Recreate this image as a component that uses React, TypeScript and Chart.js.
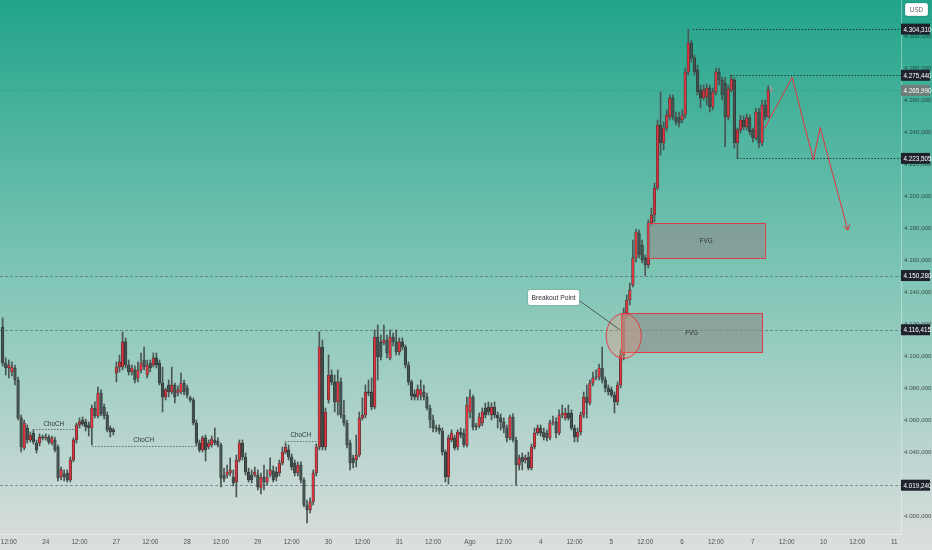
import { useEffect, useRef } from "react";
import { Chart, registerables } from "chart.js";
Chart.register(...registerables);

// ---------- DATA (1h candles, index = bar number, day = 23 bars) ----------
const FIRST_INDEX = 9;
const OPEN = [
  4118.1, 4095.6, 4092.5, 4090.0, 4092.5, 4085.0, 4061.3, 4042.5, 4055.0, 4047.5,
  4051.9, 4045.6, 4045.6, 4049.4, 4048.8, 4049.4, 4045.6, 4047.5, 4043.1, 4024.4,
  4026.3, 4026.9, 4022.5, 4035.0, 4047.5, 4056.9, 4060.0, 4058.8, 4056.9, 4055.0,
  4067.5, 4062.5, 4076.9, 4068.1, 4063.1, 4055.0, 4053.8, 4089.4, 4093.1, 4093.1,
  4108.8, 4094.4, 4090.0, 4091.3, 4086.3, 4091.3, 4097.5, 4088.1, 4095.6, 4094.4,
  4098.8, 4095.6, 4083.1, 4074.4, 4081.9, 4077.5, 4081.9, 4076.9, 4077.5, 4083.1,
  4080.0, 4073.8, 4072.5, 4058.1, 4045.6, 4041.3, 4048.8, 4043.1, 4044.4, 4047.5,
  4046.9, 4044.4, 4025.6, 4025.6, 4026.9, 4024.4, 4021.3, 4035.0, 4045.6, 4036.9,
  4027.5, 4025.6, 4025.6, 4025.6, 4017.5, 4024.4, 4021.3, 4025.6, 4028.1, 4027.5,
  4026.9, 4033.1, 4040.0, 4041.3, 4036.9, 4033.1, 4026.9, 4031.9, 4022.5, 4006.9,
  4003.8, 4008.8, 4026.9, 4043.1, 4105.6, 4043.1, 4072.5, 4088.1, 4083.8, 4071.3,
  4083.8, 4063.1, 4058.1, 4045.6, 4036.3, 4035.0, 4038.1, 4061.3, 4063.1, 4077.5,
  4077.5, 4068.1, 4111.9, 4108.8, 4108.1, 4110.0, 4098.8, 4111.9, 4108.8, 4102.5,
  4108.8, 4105.6, 4094.4, 4083.8, 4076.3, 4074.4, 4075.6, 4077.5, 4074.4, 4067.5,
  4060.0, 4055.0, 4055.0, 4053.1, 4040.0, 4024.4, 4047.5, 4048.8, 4043.1, 4052.5,
  4051.9, 4044.4, 4065.0, 4074.4, 4056.3, 4056.3, 4058.1, 4067.5, 4068.1, 4063.1,
  4068.1, 4063.1, 4061.3, 4058.8, 4055.0, 4048.8, 4061.9, 4047.5, 4031.9, 4036.9,
  4035.0, 4036.9, 4030.0, 4043.1, 4051.9, 4055.0, 4052.5, 4051.9, 4048.8, 4058.1,
  4058.8, 4051.9, 4063.1, 4061.3, 4064.4, 4064.4, 4055.0, 4049.4, 4052.5, 4063.1,
  4074.4, 4070.6, 4083.1, 4086.3, 4086.9, 4092.5, 4085.0, 4080.0, 4078.8, 4075.6,
  4071.3, 4081.9, 4100.6, 4126.9, 4135.0, 4144.4, 4161.3, 4176.9, 4169.4, 4161.3,
  4156.9, 4183.1, 4188.1, 4205.0, 4244.4, 4233.1, 4242.5, 4249.4, 4261.3, 4249.4,
  4248.8, 4247.5, 4250.6, 4277.5, 4295.6, 4286.3, 4278.8, 4266.3, 4261.3, 4261.9,
  4267.5, 4255.6, 4265.0, 4277.5, 4272.5, 4270.6, 4249.4, 4266.3, 4272.5, 4233.1,
  4241.3, 4247.5, 4243.1, 4248.8, 4241.3, 4236.3, 4252.5, 4233.1, 4256.9, 4249.4,
  4266.3,
];
const HIGH = [
  4123.8, 4098.8, 4097.5, 4096.3, 4094.4, 4086.9, 4063.1, 4060.0, 4056.9, 4052.5,
  4053.8, 4047.5, 4051.3, 4050.6, 4051.3, 4050.6, 4050.0, 4049.4, 4044.4, 4030.6,
  4028.8, 4028.8, 4036.9, 4048.8, 4058.1, 4061.3, 4061.9, 4060.6, 4058.8, 4069.4,
  4071.3, 4080.6, 4078.8, 4070.0, 4065.0, 4056.3, 4055.0, 4096.3, 4100.6, 4115.0,
  4111.3, 4097.5, 4094.4, 4093.8, 4096.3, 4101.9, 4105.6, 4097.5, 4097.5, 4101.9,
  4101.9, 4097.5, 4093.1, 4080.0, 4085.0, 4093.1, 4083.1, 4081.3, 4089.4, 4085.0,
  4081.9, 4075.0, 4073.8, 4060.0, 4047.5, 4050.0, 4050.6, 4047.5, 4050.0, 4055.0,
  4048.8, 4045.6, 4030.0, 4031.9, 4036.3, 4028.8, 4038.1, 4047.5, 4047.5, 4039.4,
  4030.0, 4028.8, 4030.6, 4028.8, 4026.9, 4031.9, 4028.8, 4036.3, 4031.3, 4030.6,
  4035.0, 4043.1, 4045.6, 4044.4, 4038.8, 4035.0, 4033.8, 4033.8, 4023.8, 4010.0,
  4011.3, 4028.8, 4045.0, 4115.0, 4110.0, 4067.5, 4100.6, 4091.3, 4088.1, 4091.3,
  4086.3, 4072.5, 4060.0, 4047.5, 4038.1, 4050.6, 4065.0, 4073.8, 4081.9, 4085.0,
  4086.3, 4116.3, 4119.4, 4113.1, 4119.4, 4113.1, 4116.3, 4114.4, 4116.3, 4111.3,
  4111.3, 4106.9, 4096.3, 4085.0, 4078.8, 4081.9, 4085.0, 4081.9, 4076.9, 4069.4,
  4063.1, 4056.9, 4056.9, 4055.0, 4041.3, 4050.6, 4053.8, 4050.6, 4053.8, 4055.0,
  4054.4, 4074.4, 4078.8, 4075.6, 4058.1, 4064.4, 4067.5, 4070.6, 4071.3, 4070.6,
  4071.3, 4065.0, 4063.8, 4061.3, 4056.9, 4063.1, 4063.8, 4049.4, 4038.1, 4039.4,
  4038.1, 4040.0, 4045.0, 4055.0, 4056.9, 4056.9, 4055.0, 4053.8, 4060.0, 4062.5,
  4061.3, 4066.3, 4069.4, 4067.5, 4069.4, 4066.3, 4056.9, 4055.0, 4065.0, 4077.5,
  4081.9, 4085.0, 4090.0, 4091.3, 4095.0, 4105.6, 4086.9, 4081.9, 4080.6, 4077.5,
  4083.8, 4103.8, 4130.0, 4138.1, 4145.6, 4172.5, 4179.4, 4178.8, 4172.5, 4163.1,
  4185.0, 4192.5, 4208.1, 4247.5, 4265.0, 4246.3, 4253.8, 4263.1, 4263.1, 4252.5,
  4252.5, 4253.8, 4280.0, 4304.31, 4297.5, 4288.1, 4281.9, 4269.4, 4269.4, 4270.0,
  4269.4, 4267.5, 4280.0, 4280.0, 4274.4, 4274.4, 4269.4, 4275.44, 4273.8, 4242.5,
  4250.6, 4250.0, 4251.3, 4250.6, 4242.5, 4255.0, 4255.0, 4260.0, 4260.0, 4268.8,
  4268.8,
];
const LOW = [
  4093.8, 4088.1, 4086.3, 4087.5, 4081.9, 4060.0, 4040.0, 4041.3, 4045.6, 4046.3,
  4045.0, 4039.4, 4043.8, 4047.5, 4047.5, 4045.0, 4044.4, 4040.0, 4021.9, 4022.5,
  4021.9, 4021.3, 4021.3, 4033.8, 4045.6, 4055.0, 4056.3, 4053.1, 4050.0, 4044.4,
  4061.3, 4061.3, 4062.5, 4060.6, 4052.5, 4049.4, 4050.6, 4083.8, 4090.0, 4091.3,
  4092.5, 4088.1, 4088.1, 4083.1, 4083.8, 4089.4, 4091.3, 4086.3, 4090.0, 4093.1,
  4092.5, 4081.9, 4065.0, 4072.5, 4074.4, 4076.3, 4070.6, 4075.0, 4076.3, 4075.6,
  4073.8, 4071.3, 4056.9, 4043.8, 4040.0, 4040.0, 4034.4, 4041.9, 4043.1, 4044.4,
  4043.1, 4018.1, 4021.3, 4023.8, 4025.0, 4018.8, 4011.9, 4033.8, 4035.0, 4025.6,
  4021.3, 4020.6, 4024.4, 4016.3, 4013.8, 4016.3, 4019.4, 4024.4, 4021.3, 4021.9,
  4025.0, 4031.9, 4038.8, 4035.0, 4028.8, 4025.0, 4025.0, 4020.6, 4005.6, 3995.6,
  4001.9, 4006.9, 4025.0, 4041.3, 4041.3, 4041.3, 4070.6, 4081.9, 4065.0, 4063.1,
  4061.3, 4056.3, 4042.5, 4028.8, 4030.0, 4030.6, 4036.9, 4060.0, 4061.3, 4075.0,
  4066.3, 4066.9, 4085.0, 4097.5, 4106.9, 4098.8, 4097.5, 4106.3, 4100.6, 4100.6,
  4103.8, 4092.5, 4081.9, 4072.5, 4072.5, 4072.5, 4072.5, 4072.5, 4066.3, 4055.0,
  4052.5, 4052.5, 4051.3, 4038.1, 4021.3, 4020.0, 4046.3, 4041.3, 4041.3, 4048.8,
  4043.1, 4043.1, 4061.3, 4053.8, 4053.8, 4055.0, 4056.3, 4061.3, 4063.1, 4060.0,
  4061.3, 4055.0, 4053.8, 4051.9, 4046.3, 4047.5, 4046.3, 4019.24, 4028.8, 4028.8,
  4033.1, 4028.8, 4028.8, 4041.9, 4050.6, 4050.0, 4047.5, 4046.9, 4047.5, 4056.9,
  4048.8, 4050.6, 4061.3, 4060.0, 4060.0, 4053.8, 4046.3, 4046.3, 4050.6, 4061.3,
  4061.3, 4069.4, 4081.3, 4085.0, 4085.0, 4083.1, 4077.5, 4075.6, 4074.4, 4064.4,
  4069.4, 4080.0, 4097.5, 4123.8, 4131.9, 4143.1, 4158.8, 4161.3, 4158.1, 4150.28,
  4155.0, 4181.3, 4183.8, 4203.8, 4225.6, 4228.8, 4240.6, 4247.5, 4247.5, 4244.4,
  4243.1, 4245.6, 4248.8, 4275.6, 4283.8, 4275.6, 4263.1, 4255.0, 4260.0, 4256.9,
  4252.5, 4253.8, 4263.1, 4269.4, 4260.0, 4230.6, 4247.5, 4265.0, 4230.0, 4223.505,
  4239.4, 4241.3, 4241.3, 4238.1, 4233.8, 4235.0, 4230.0, 4231.3, 4247.5, 4248.8,
  4265.0,
];
const CLOSE = [
  4095.6, 4092.5, 4094.4, 4093.1, 4085.0, 4061.3, 4043.1, 4058.1, 4047.5, 4050.6,
  4046.3, 4041.3, 4049.4, 4048.8, 4049.4, 4046.3, 4048.8, 4041.3, 4023.8, 4028.8,
  4024.4, 4022.5, 4035.0, 4047.5, 4056.9, 4058.8, 4057.5, 4055.6, 4055.0, 4067.5,
  4062.5, 4076.9, 4063.8, 4062.5, 4053.8, 4052.5, 4052.5, 4093.1, 4096.3, 4108.8,
  4094.4, 4090.0, 4092.5, 4085.0, 4091.3, 4095.6, 4093.1, 4094.4, 4092.5, 4098.8,
  4094.4, 4083.1, 4074.4, 4078.8, 4077.5, 4081.9, 4074.4, 4078.8, 4083.1, 4077.5,
  4075.6, 4072.5, 4058.1, 4045.6, 4041.3, 4048.8, 4041.3, 4045.6, 4048.1, 4045.6,
  4044.4, 4023.8, 4023.1, 4027.5, 4028.8, 4020.6, 4035.0, 4045.6, 4036.9, 4027.5,
  4022.5, 4022.5, 4027.5, 4018.1, 4024.4, 4021.3, 4024.4, 4028.8, 4022.5, 4024.4,
  4033.1, 4040.0, 4043.1, 4036.9, 4030.6, 4026.9, 4031.9, 4022.5, 4006.9, 4003.8,
  4008.8, 4026.9, 4043.1, 4105.6, 4043.1, 4065.0, 4088.1, 4083.8, 4071.3, 4083.8,
  4063.1, 4058.1, 4044.4, 4033.1, 4033.1, 4038.1, 4061.3, 4063.1, 4077.5, 4076.9,
  4068.1, 4111.9, 4099.4, 4099.4, 4110.0, 4101.9, 4111.9, 4108.8, 4102.5, 4108.8,
  4105.6, 4094.4, 4083.8, 4075.0, 4074.4, 4079.4, 4078.8, 4074.4, 4067.5, 4060.0,
  4055.0, 4054.4, 4053.1, 4040.0, 4024.4, 4048.8, 4051.9, 4042.5, 4052.5, 4050.6,
  4044.4, 4069.4, 4074.4, 4055.6, 4055.6, 4061.9, 4065.0, 4063.1, 4065.0, 4068.1,
  4063.1, 4061.3, 4058.8, 4055.0, 4048.8, 4061.9, 4047.5, 4031.9, 4036.3, 4033.8,
  4036.3, 4030.0, 4043.1, 4051.9, 4055.0, 4051.9, 4049.4, 4048.8, 4058.1, 4058.8,
  4051.9, 4063.1, 4064.4, 4064.4, 4061.3, 4055.0, 4049.4, 4052.5, 4063.1, 4074.4,
  4070.6, 4083.1, 4086.3, 4086.9, 4092.5, 4085.0, 4080.0, 4077.5, 4075.6, 4071.3,
  4081.9, 4100.6, 4126.9, 4135.0, 4141.3, 4161.3, 4177.5, 4163.1, 4160.0, 4156.9,
  4183.1, 4188.1, 4205.0, 4244.4, 4233.1, 4242.5, 4250.6, 4261.3, 4249.4, 4246.3,
  4245.6, 4250.6, 4277.5, 4295.6, 4286.3, 4277.5, 4265.0, 4261.3, 4266.3, 4267.5,
  4255.6, 4265.0, 4277.5, 4272.5, 4263.1, 4249.4, 4266.9, 4273.1, 4233.1, 4241.3,
  4247.5, 4243.1, 4248.8, 4240.0, 4236.3, 4252.5, 4233.1, 4256.9, 4249.4, 4266.3,
  4265.99,
];

const TICK_LABELS = [
  "12:00", "24", "12:00", "27", "12:00", "28", "12:00", "29", "12:00", "30",
  "12:00", "31", "12:00", "Ago", "12:00", "4", "12:00", "5", "12:00", "6",
  "12:00", "7", "12:00", "10", "12:00", "11",
];
const Y_TICKS = [
  4000, 4020, 4040, 4060, 4080, 4100, 4120, 4140, 4160, 4180, 4200, 4220, 4240,
  4260, 4280, 4300,
];

// Marked price levels (right-axis tags)
const TAG_LEVELS = [4304.31, 4275.44, 4223.505, 4150.28, 4116.415, 4019.24];
const CURRENT_PRICE = 4265.99;
// Dotted rays starting at a bar
const RAY_LEVELS = [4304.31, 4275.44, 4223.505];
const RAY_START = [233.5, 245.6, 247.9];
// Full-width dashed levels
const FULL_LEVELS = [4150.28, 4116.415, 4019.24];
// ChoCH marks
const CHOCH_LEVEL = [4054.4, 4044.0, 4047.1];
const CHOCH_FROM = [18.9, 38.1, 100.8];
const CHOCH_TO = [32.3, 71.6, 111.2];
// FVG boxes
const FVG_FROM = [218.8, 210.2];
const FVG_TO = [256.8, 256.0];
const FVG_TOP = [4182.9, 4126.9];
const FVG_BOTTOM = [4161.1, 4102.5];
// Breakout circle and note
const CIRCLE = { x: 211.0, y: 4112.5, rx: 5.7, ry: 14.0 };
const NOTE = { x: 188.2, y: 4136.6, toX: 209.8, toY: 4116.3, text: "Breakout Point" };
// Projected path
const PATH_X = [256.8, 265.8, 272.7, 274.9, 283.9];
const PATH_Y = [4242.1, 4274.2, 4222.5, 4242.9, 4178.75];

// ---------- layout / style ----------
const BARS_PER_DAY = 23;
const NOON_OFFSET = 11;
const X_MIN = 8.13;
const X_MAX = 301.2;
const Y_MIN = 3988.75;
const Y_MAX = 4322.5;
const UP = "#e0343f";
const DOWN = "#46524f";
const EDGE = "#26302e";
const WICK = "#4a5653";
const LAST_FILL = "#a3b0ad";
const LAST_EDGE = "#8e9b98";
const FONT = "'Liberation Sans', Arial, sans-serif";
const AXIS_TEXT = "rgba(38,48,46,0.8)";
const SQUEEZE = 0.84;

const fmt = (v: number) => {
  const [a, b] = v.toFixed(3).split(".");
  return a.replace(/\B(?=(\d{3})+(?!\d))/g, ".") + "," + b;
};
const tickPos = (j: number) =>
  j % 2 === 0 ? NOON_OFFSET + BARS_PER_DAY * (j / 2) : BARS_PER_DAY * ((j + 1) / 2);

// condensed text helper
const ctext = (ctx: any, t: string, x: number, y: number) => {
  ctx.save();
  ctx.translate(x, y);
  ctx.scale(SQUEEZE, 1);
  ctx.fillText(t, 0, 0);
  ctx.restore();
};

const background = {
  id: "bg",
  beforeDraw(chart: any) {
    const { ctx, width, height } = chart;
    const g = ctx.createLinearGradient(0, 0, 0, height);
    g.addColorStop(0, "#21a48a");
    g.addColorStop(0.5, "#7fc5b5");
    g.addColorStop(1, "#dcdede");
    ctx.save();
    ctx.fillStyle = g;
    ctx.fillRect(0, 0, width, height);
    ctx.restore();
  },
};

const overlay = {
  id: "overlay",
  afterDatasetsDraw(chart: any) {
    const { ctx, chartArea: a } = chart;
    const X = (v: number) => chart.scales.x.getPixelForValue(v);
    const Y = (v: number) => chart.scales.y.getPixelForValue(v);
    const hline = (x0: number, x1: number, v: number) => {
      const y = Math.round(Y(v)) + 0.5;
      ctx.beginPath();
      ctx.moveTo(x0, y);
      ctx.lineTo(x1, y);
      ctx.stroke();
    };
    ctx.save();
    ctx.beginPath();
    ctx.rect(a.left, a.top, a.right - a.left, a.bottom - a.top);
    ctx.clip();
    ctx.lineWidth = 1;

    // full-width levels
    ctx.strokeStyle = "rgba(70,82,80,0.55)";
    ctx.setLineDash([3, 2]);
    FULL_LEVELS.forEach((v) => hline(a.left, a.right, v));
    // current price line
    ctx.strokeStyle = "rgba(80,95,92,0.35)";
    ctx.setLineDash([1, 2]);
    hline(a.left, a.right, CURRENT_PRICE);
    // rays
    ctx.strokeStyle = "#1a2120";
    ctx.setLineDash([1.2, 2]);
    RAY_LEVELS.forEach((v, k) => hline(X(RAY_START[k]), a.right, v));
    // ChoCH
    ctx.strokeStyle = "rgba(70,80,78,0.75)";
    ctx.setLineDash([1.5, 1.5]);
    ctx.font = `7.5px ${FONT}`;
    ctx.fillStyle = "#2e3533";
    ctx.textAlign = "center";
    ctx.textBaseline = "bottom";
    CHOCH_LEVEL.forEach((v, k) => {
      hline(X(CHOCH_FROM[k]), X(CHOCH_TO[k]), v);
      ctext(ctx, "ChoCH", (X(CHOCH_FROM[k]) + X(CHOCH_TO[k])) / 2, Y(v) - 1.5);
    });
    ctx.setLineDash([]);

    // FVG boxes
    FVG_FROM.forEach((f, k) => {
      const x0 = X(f), x1 = X(FVG_TO[k]);
      const y0 = Y(FVG_TOP[k]), y1 = Y(FVG_BOTTOM[k]);
      ctx.fillStyle = "rgba(138,142,141,0.66)";
      ctx.fillRect(x0, y0, x1 - x0, y1 - y0);
      ctx.strokeStyle = "#e03a48";
      ctx.lineWidth = 1;
      ctx.strokeRect(Math.round(x0) + 0.5, Math.round(y0) + 0.5, Math.round(x1 - x0), Math.round(y1 - y0));
      ctx.fillStyle = "#2b3331";
      ctx.textBaseline = "middle";
      ctext(ctx, "FVG", (x0 + x1) / 2, (y0 + y1) / 2);
    });

    // circle
    const cx = X(CIRCLE.x), cy = Y(CIRCLE.y);
    const rx = X(CIRCLE.x + CIRCLE.rx) - cx, ry = cy - Y(CIRCLE.y + CIRCLE.ry);
    ctx.beginPath();
    ctx.ellipse(cx, cy, rx, ry, 0, 0, Math.PI * 2);
    ctx.fillStyle = "rgba(240,150,120,0.32)";
    ctx.fill();
    ctx.strokeStyle = "#e03a48";
    ctx.stroke();

    // note
    const nx = X(NOTE.x), ny = Y(NOTE.y);
    ctx.font = `8px ${FONT}`;
    const tw = ctx.measureText(NOTE.text).width * SQUEEZE;
    const bw = tw + 7, bh = 15;
    ctx.strokeStyle = "#3a4240";
    ctx.lineWidth = 0.8;
    ctx.beginPath();
    ctx.moveTo(nx + bw / 2, ny + 3);
    ctx.lineTo(X(NOTE.toX), Y(NOTE.toY));
    ctx.stroke();
    ctx.save();
    ctx.shadowColor = "rgba(0,0,0,0.25)";
    ctx.shadowBlur = 2;
    ctx.fillStyle = "#ffffff";
    ctx.beginPath();
    ctx.roundRect(nx - bw / 2, ny - bh / 2, bw, bh, 2);
    ctx.fill();
    ctx.restore();
    ctx.fillStyle = "#2a2e39";
    ctx.textBaseline = "middle";
    ctext(ctx, NOTE.text, nx, ny + 0.5);

    // projected path
    ctx.strokeStyle = "#e5323f";
    ctx.lineWidth = 1;
    ctx.beginPath();
    PATH_X.forEach((x, k) => (k === 0 ? ctx.moveTo(X(x), Y(PATH_Y[k])) : ctx.lineTo(X(x), Y(PATH_Y[k]))));
    ctx.stroke();
    const n = PATH_X.length;
    const ex = X(PATH_X[n - 1]), ey = Y(PATH_Y[n - 1]);
    const ang = Math.atan2(ey - Y(PATH_Y[n - 2]), ex - X(PATH_X[n - 2]));
    ctx.beginPath();
    [-0.6, 0.6].forEach((d) => {
      ctx.moveTo(ex, ey);
      ctx.lineTo(ex - 6 * Math.cos(ang + d), ey - 6 * Math.sin(ang + d));
    });
    ctx.stroke();
    ctx.restore();
  },
};

const axisTags = {
  id: "tags",
  afterDraw(chart: any) {
    const { ctx, chartArea: a, width } = chart;
    const Y = (v: number) => chart.scales.y.getPixelForValue(v);
    ctx.save();
    ctx.font = `7.5px ${FONT}`;
    ctx.textAlign = "left";
    ctx.textBaseline = "middle";
    const tag = (v: number, bg: string) => {
      const y = Y(v);
      ctx.fillStyle = bg;
      ctx.fillRect(a.right, y - 5.5, width - a.right - 2, 11);
      ctx.fillStyle = "#ffffff";
      ctext(ctx, fmt(v), a.right + 2.5, y + 0.5);
    };
    TAG_LEVELS.forEach((v) => tag(v, "#1e232b"));
    tag(CURRENT_PRICE, "#6e7d7a");
    // currency box
    ctx.fillStyle = "#ffffff";
    ctx.strokeStyle = "rgba(0,0,0,0.18)";
    ctx.lineWidth = 0.8;
    ctx.beginPath();
    ctx.roundRect(a.right + 4, 3, 23, 13, 2.5);
    ctx.fill();
    ctx.stroke();
    ctx.fillStyle = "#5d606b";
    ctx.textAlign = "center";
    ctext(ctx, "USD", a.right + 15.5, 10);
    ctx.restore();
  },
};

export default function App() {
  const ref = useRef<HTMLCanvasElement>(null);
  useEffect(() => {
    document.body.style.margin = "0";
    const n = CLOSE.length;
    const xs = CLOSE.map((_, k) => FIRST_INDEX + k);
    const fill = CLOSE.map((c, k) => (k === n - 1 ? LAST_FILL : c > OPEN[k] ? UP : DOWN));
    const edge = CLOSE.map((_, k) => (k === n - 1 ? LAST_EDGE : EDGE));
    const wick = CLOSE.map((_, k) => (k === n - 1 ? LAST_EDGE : WICK));
    const chart = new Chart(ref.current as HTMLCanvasElement, {
      type: "bar",
      data: {
        datasets: [
          {
            label: "body",
            data: xs.map((x, k) => ({ x, y: [OPEN[k], CLOSE[k]] })) as any,
            backgroundColor: fill,
            borderColor: edge,
            borderWidth: 0.6,
            borderSkipped: false,
            barThickness: 2.6,
            minBarLength: 1.2,
            grouped: false,
            order: 0,
          },
          {
            label: "wick",
            data: xs.map((x, k) => ({ x, y: [LOW[k], HIGH[k]] })) as any,
            backgroundColor: wick,
            borderWidth: 0,
            barThickness: 1,
            grouped: false,
            order: 1,
          },
        ],
      },
      options: {
        animation: false,
        responsive: false,
        events: [],
        layout: { padding: 0 },
        plugins: { legend: { display: false }, tooltip: { enabled: false } },
        scales: {
          x: {
            type: "linear",
            min: X_MIN,
            max: X_MAX,
            offset: false,
            grid: { display: false, drawTicks: false },
            border: { display: true, color: "rgba(255,255,255,0.35)" },
            afterBuildTicks: (s: any) => {
              s.ticks = TICK_LABELS.map((_, j) => ({ value: tickPos(j) }));
            },
            afterFit: (s: any) => {
              s.height = 16;
              s.paddingLeft = 0;
              s.paddingRight = 0;
            },
            ticks: {
              autoSkip: false,
              maxRotation: 0,
              padding: 4,
              color: AXIS_TEXT,
              font: { family: FONT, size: 6.4 },
              callback: (_v: any, i: number) => TICK_LABELS[i],
            },
          },
          y: {
            type: "linear",
            position: "right",
            min: Y_MIN,
            max: Y_MAX,
            grid: { display: false, drawTicks: false },
            border: { display: true, color: "rgba(255,255,255,0.35)" },
            afterBuildTicks: (s: any) => {
              s.ticks = Y_TICKS.map((v) => ({ value: v }));
            },
            afterFit: (s: any) => {
              s.width = 31;
              s.paddingTop = 0;
              s.paddingBottom = 0;
            },
            ticks: {
              padding: 3,
              color: AXIS_TEXT,
              font: { family: FONT, size: 6.2 },
              callback: (v: any) => fmt(Number(v)),
            },
          },
        },
      },
      plugins: [background, overlay, axisTags],
    });
    return () => chart.destroy();
  }, []);
  return (
    <div style={{ position: "absolute", left: 0, top: 0, width: 932, height: 550 }}>
      <canvas ref={ref} width={932} height={550} style={{ width: 932, height: 550, display: "block" }} />
    </div>
  );
}
